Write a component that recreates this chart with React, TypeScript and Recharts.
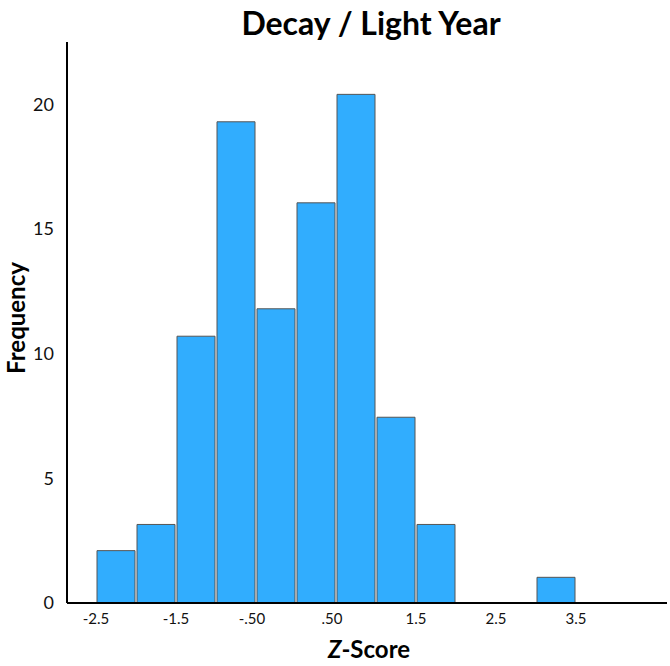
import { ComposedChart, Bar, XAxis, YAxis, Customized } from 'recharts';

// histogram bins (0.5 wide), centers and frequencies
const binCenters = [-2.25, -1.75, -1.25, -0.75, -0.25, 0.25, 0.75, 1.25, 1.75, 2.25, 2.75, 3.25];
const frequencies = [2.1, 3.15, 10.7, 19.3, 11.8, 16.05, 20.4, 7.45, 3.15, 0, 0, 1.03];

const xTicks = [-2.5, -1.5, -0.5, 0.5, 1.5, 2.5, 3.5];
const xTickLabels = ['-2.5', '-1.5', '-.50', '.50', '1.5', '2.5', '3.5'];
const yTicks = [0, 5, 10, 15, 20];

const FONT = 'Lato, "Open Sans", sans-serif';

const data = binCenters.map((x, i) => ({ x, freq: frequencies[i] }));

function XTick(props: any) {
    const { x, y, payload } = props;
    const idx = xTicks.indexOf(payload.value);
    const label = idx >= 0 ? xTickLabels[idx] : String(payload.value);
    // SPSS nudges the ".50" style labels a little to the left
    const dx = label.startsWith('.') || label.startsWith('-.') ? -4 : 0;
    return (
        <text x={x + dx} y={y} dy="0.71em" textAnchor="middle" fontSize={15} fontFamily={FONT} fill="#111">
            {label}
        </text>
    );
}

function Titles() {
    return (
        <g fontFamily={FONT} fontWeight="bold" fill="#000">
            <text x={371} y={35} textAnchor="middle" fontSize={32}>
                Decay / Light Year
            </text>
            <text x={369} y={658} textAnchor="middle" fontSize={24}>
                <tspan fontStyle="italic">Z</tspan>-Score
            </text>
            <text x={25} y={318} textAnchor="middle" fontSize={24} transform="rotate(-90, 25, 318)">
                Frequency
            </text>
        </g>
    );
}

export default function App() {
    return (
        <div style={{ width: 670, height: 666, background: '#fff' }}>
            <style>{'body { margin: 0; }'}</style>
            <ComposedChart
                width={670}
                height={666}
                data={data}
                margin={{ top: 42, right: 3, bottom: 0, left: 0 }}
            >
                <XAxis
                    dataKey="x"
                    type="number"
                    domain={[-2.8625, 4.6375]}
                    allowDataOverflow
                    ticks={xTicks}
                    interval={0}
                    height={63}
                    tickLine={false}
                    tickSize={6}
                    tickMargin={4}
                    tick={<XTick />}
                    axisLine={{ stroke: '#000', strokeWidth: 2 }}
                />
                <YAxis
                    type="number"
                    domain={[0, 22.5]}
                    ticks={yTicks}
                    allowDataOverflow
                    width={67}
                    tickLine={false}
                    tickSize={6}
                    tickMargin={7}
                    tick={{ fontSize: 18, fontFamily: FONT, fill: '#111' }}
                    axisLine={{ stroke: '#000', strokeWidth: 2 }}
                />
                <Bar
                    dataKey="freq"
                    fill="#31adfe"
                    stroke="#555"
                    strokeWidth={1}
                    barSize={38}
                    isAnimationActive={false}
                />
                <Customized component={Titles} />
            </ComposedChart>
        </div>
    );
}
